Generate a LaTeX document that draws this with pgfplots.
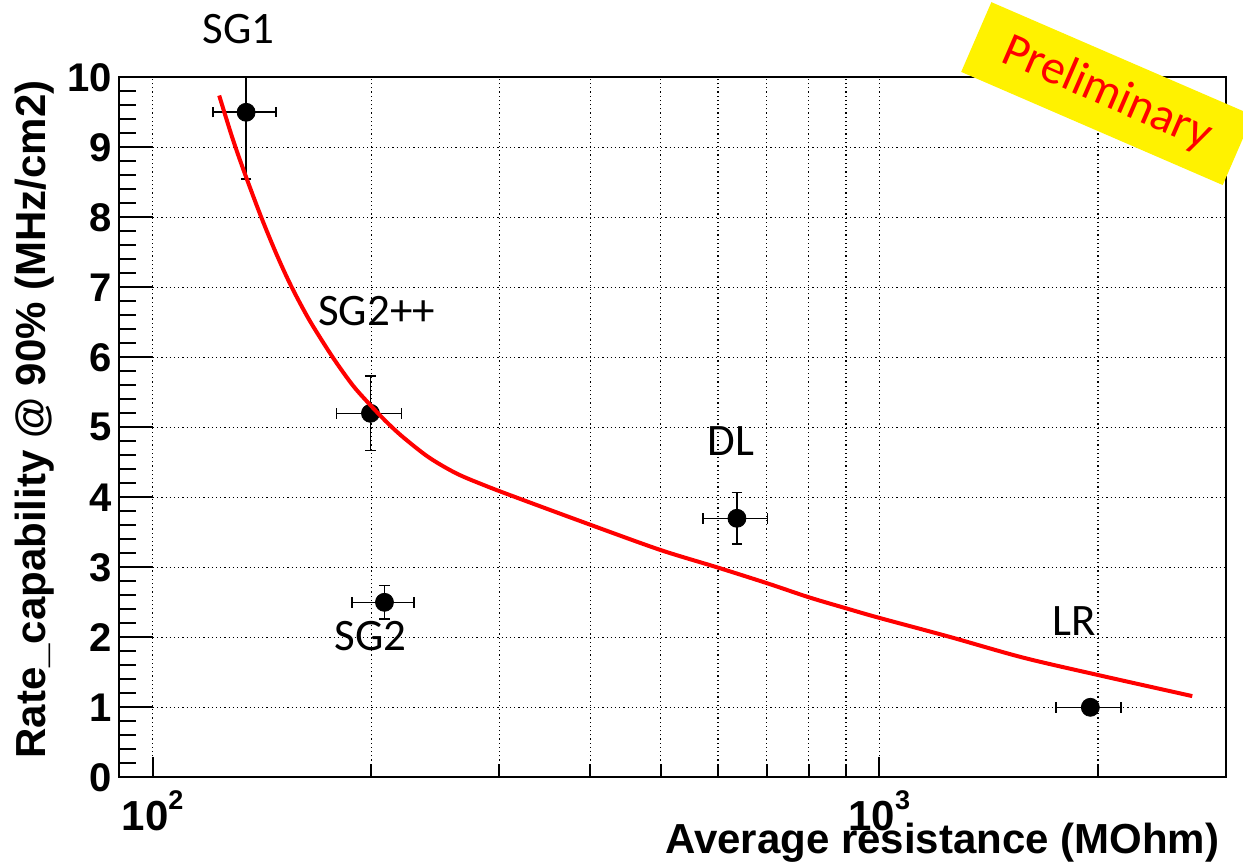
\documentclass[border=0pt]{standalone}
\usepackage{fontspec}
\setmainfont{Liberation Sans}
\newfontfamily\calibri{Carlito}
\usepackage{pgfplots}
\usepackage{pgfplotstable}
\pgfplotsset{compat=1.18}
\usetikzlibrary{calc}

% measured points: resistance, rate, errors
\pgfplotstableread{
x     y    ex    ey
134.5 9.5  13.5  0.95
199.5 5.2  20.5  0.53
208.5 2.5  20.5  0.24
637   3.7  65    0.37
1952  1.0  200   0.03
}\points

\begin{document}
\begin{tikzpicture}
\begin{axis}[
    xmode=log,
    scale only axis, width=553.35pt, height=350pt,
    xmin=90, xmax=3000, ymin=0, ymax=10,
    xtick={100,1000},
    xticklabels={10\raisebox{10.5pt}{\fontsize{13.5}{13.5}\selectfont 2},
                 10\raisebox{10.5pt}{\fontsize{13.5}{13.5}\selectfont 3}},
    minor xtick={200,300,400,500,600,700,800,900,2000},
    ytick={0,1,...,10}, minor y tick num=4,
    tick align=inside, tick pos=left,
    major tick length=17pt, minor tick length=8.5pt,
    tick style={black, line width=1pt},
    xtick style={/pgfplots/major tick length=10pt, /pgfplots/minor tick length=6.5pt},
    xmajorgrids, xminorgrids, ymajorgrids,
    grid style={black, line width=0.6pt, dash pattern=on 0.6pt off 1.5pt},
    axis line style={line width=1pt},
    clip mode=individual,
    /pgf/number format/assume math mode=true,
    tick label style={font=\fontsize{20}{20}\selectfont\bfseries},
    xticklabel style={font=\fontsize{21}{21}\selectfont\bfseries},
    yticklabel style={inner sep=0pt, xshift=-3.5pt},
    xticklabel style={inner sep=0pt, yshift=-6.4pt, anchor=north},
    xlabel={Average resistance (MOhm)},
    ylabel={Rate\_capability @ 90\% (MHz/cm2)},
    label style={font=\fontsize{21}{21}\selectfont\bfseries, inner sep=0pt},
    xlabel style={at={(axis description cs:0.9943,-0.1224)}, anchor=south east},
    ylabel style={at={(axis description cs:-0.0942,0.9961)}, anchor=north east},
]
\addplot[only marks, mark=*, mark size=4.5pt, black,
    error bars/.cd, x dir=both, x explicit, y dir=both, y explicit,
    error bar style={line width=0.8pt, black},
    error mark options={rotate=90, black, mark size=2.6pt, line width=0.8pt}]
    table[x=x, y=y, x error=ex, y error=ey] {\points};

% fit curve
\addplot[red, line width=2pt, smooth] coordinates {
    (123.5,9.74) (128.9,9.12) (134,8.62) (141,8.01) (148,7.48)
    (155.1,7.02) (164.4,6.53) (177,6.0) (188.6,5.6) (198.9,5.33)
    (209.7,5.08) (221.1,4.86) (240,4.57) (262,4.34) (288,4.16)
    (320,3.98) (395,3.63) (499,3.25) (598,3.0) (702,2.77)
    (801,2.57) (903,2.41) (998,2.28) (1246,2.01) (1577,1.71)
    (2022,1.45) (2696,1.16)
};

\node[font=\calibri\fontsize{22.5}{22.5}\selectfont, anchor=base] at (axis cs:131.3,10.48) {SG1};
\node[font=\calibri\fontsize{22.5}{22.5}\selectfont, anchor=base] at (axis cs:203.5,6.457) {SG2++};
\node[font=\calibri\fontsize{22.5}{22.5}\selectfont, anchor=base] at (axis cs:625.5,4.596) {DL};
\node[font=\calibri\fontsize{22.5}{22.5}\selectfont, anchor=base] at (axis cs:199.6,1.814) {SG2};
\node[font=\calibri\fontsize{22.5}{22.5}\selectfont, anchor=base] at (axis cs:1853,2.02) {LR};

\coordinate (prelim) at (axis cs:2058,9.767);
\coordinate (sw) at (rel axis cs:0,0);
\end{axis}
\node[fill=yellow, text=red, rotate=-23.4, minimum width=142.5pt, minimum height=38pt,
    inner sep=0pt, font=\calibri\fontsize{24}{24}\selectfont] at (prelim) {Preliminary};
\pgfresetboundingbox
\path (sw) ++(-59.65pt,-43.35pt) rectangle ++(621.5pt,432pt);
\end{tikzpicture}
\end{document}
